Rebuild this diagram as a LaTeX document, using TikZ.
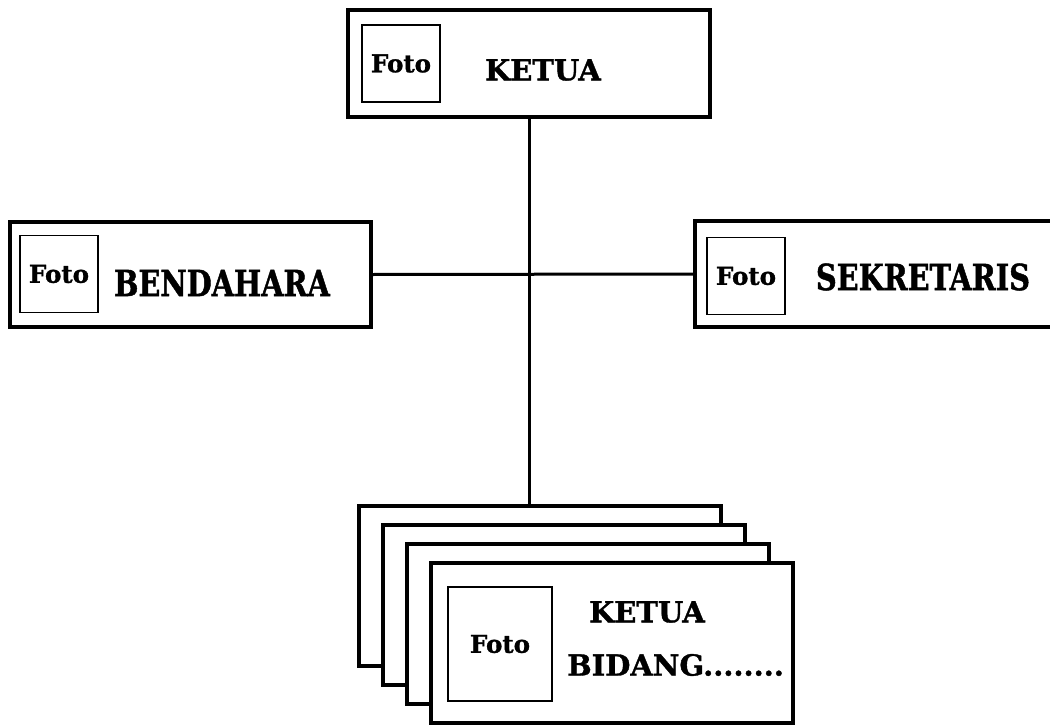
\documentclass[tikz,border=0pt]{standalone}
\usepackage{fontspec}
\setmainfont{DejaVu Serif}
\newfontfamily\tebal{DejaVu Serif}[FakeBold=1.2]
\newfontfamily\tebalsempit{DejaVu Serif}[FakeBold=1.2,FakeStretch=0.8]
\begin{document}
\begin{tikzpicture}[x=1pt,y=-1pt,
	box/.style={draw,line width=4,fill=white,minimum width=362,minimum height=107,inner sep=0},
	foto/.style={draw,line width=1.5,minimum width=78,minimum height=77,inner sep=0,font=\fontsize{24.5}{24.5}\tebal\bfseries},
	jabatan/.style={inner sep=0,font=\fontsize{29}{29}\tebal\bfseries},
	jabatanbesar/.style={inner sep=0,font=\fontsize{36}{36}\tebalsempit\bfseries}]
	\useasboundingbox (0,0) rectangle (1050,725);
	
	\node[box] (ketua) at (529,63.5) {};
	\node[foto] (fotoketua) at (401,63.5) {Foto};
	\node[jabatan] (tketua) at (543,70) {KETUA};
	
	\node[box,minimum width=361,minimum height=105] (bendahara) at (190.5,274.5) {};
	\node[foto] (fotobendahara) at (59,274) {Foto};
	\node[jabatanbesar] (tbendahara) at (222,283) {BENDAHARA};
	
	\node[box,minimum width=361,minimum height=106] (sekretaris) at (875.5,274) {};
	\node[foto] (fotosekretaris) at (746,276) {Foto};
	\node[jabatanbesar] (tsekretaris) at (923,277) {SEKRETARIS};
	
	\def\dx{24}
	\def\dy{19}
	\foreach \i in {0,1,2,3}
	{
		\node[box,minimum height=160] (bidang\i) at (540+\i*\dx,586+\i*\dy) {};
	}
	\node[foto,minimum width=104,minimum height=114] (fotobidang) at (500,644) {Foto};
	\node[jabatan] (tbidang1) at (647,612) {KETUA};
	\node[jabatan,anchor=west] (tbidang2) at (567,665) {BIDANG........};
	
	\draw[line width=3] (ketua.south) -- (ketua.south |- bidang0.north);
	\draw[line width=3] (bendahara.east) -- (sekretaris.west);
\end{tikzpicture}
\end{document}
